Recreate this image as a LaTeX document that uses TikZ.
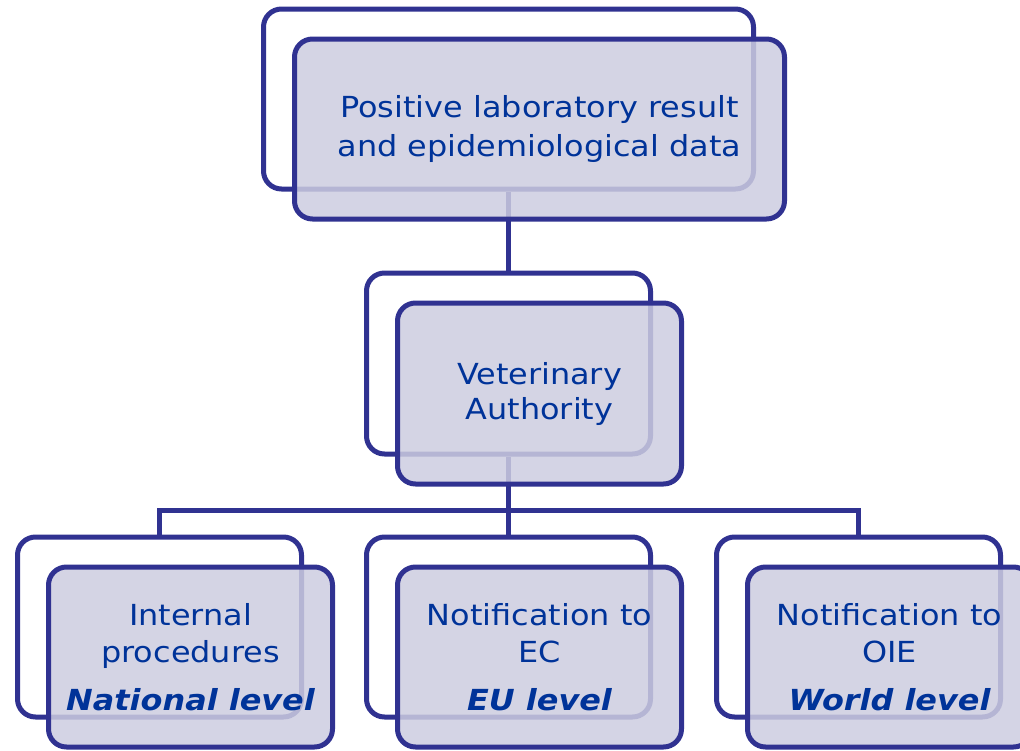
\documentclass[tikz,border=0pt]{standalone}
\usepackage{fontspec}
\setmainfont{DejaVu Sans}[FakeStretch=1.1]
\definecolor{bord}{RGB}{48,50,145}
\definecolor{frontfill}{RGB}{205,205,224}
\definecolor{txt}{RGB}{0,51,153}
\begin{document}
\begin{tikzpicture}[x=1pt,y=-1pt,
  backbox/.style={draw=bord, line width=5pt, rounded corners=18pt, fill=white, inner sep=0pt, minimum height=180pt, minimum width=284pt},
  frontbox/.style={backbox, fill=frontfill, fill opacity=0.85, text opacity=1, text=txt, align=center, font=\fontsize{29}{37}\selectfont},
  conn/.style={draw=bord, line width=5pt}]
\useasboundingbox (0,0) rectangle (1020,750);
\clip (0,0) rectangle (1020,750);
% back boxes
\node[backbox, minimum width=490pt] (topb) at (508.5,99) {};
\node[backbox, minimum height=181pt] (vab) at (508.5,363.5) {};
\node[backbox] (lb) at (159.5,627) {};
\node[backbox] (mb) at (508.5,627) {};
\node[backbox] (rb) at (858.5,627) {};
% connectors
\coordinate (bus) at (508.5,510);
\draw[conn] (topb.south) -- (vab.north);
\draw[conn] (vab.south) -- (bus);
\draw[conn] (lb.north) |- (bus) -| (rb.north);
\draw[conn] (bus) -- (mb.north);
% front boxes
\node[frontbox, minimum width=490pt, font=\fontsize{29}{39}\selectfont] (topf) at (539.5,129) {Positive laboratory result\\and epidemiological data};
\node[frontbox, minimum height=181pt, font=\fontsize{29}{35}\selectfont] (vaf) at (539.5,393.5) {Veterinary\\Authority};
\node[frontbox] (lf) at (190.5,657) {Internal\\procedures\\[11pt]{\bfseries\itshape National level}};
\node[frontbox] (mf) at (539.5,657) {Notification to\\EC\\[11pt]{\bfseries\itshape EU level}};
\node[frontbox] (rf) at (889.5,657) {Notification to\\OIE\\[11pt]{\bfseries\itshape World level}};
\end{tikzpicture}
\end{document}
